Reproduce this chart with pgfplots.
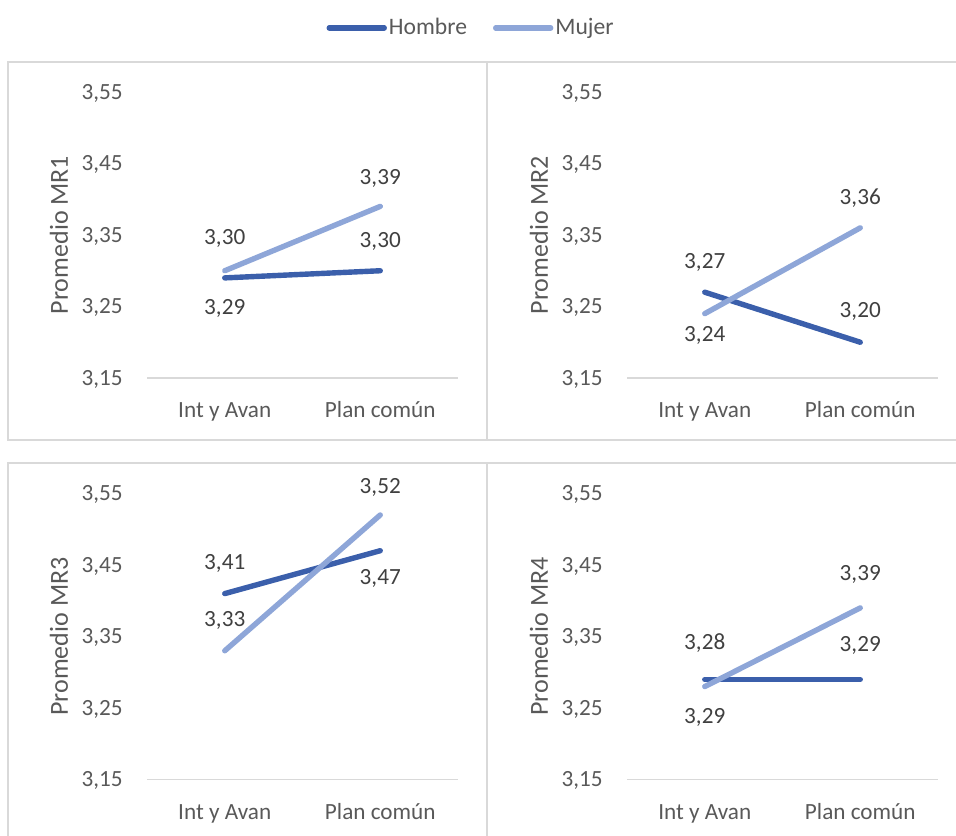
\documentclass[border=0pt]{standalone}
\usepackage{fontspec}
\setmainfont{Carlito}
\usepackage{pgfplots}
\pgfplotsset{compat=1.18}
\usepackage{pgfplotstable}

\definecolor{hombre}{RGB}{59,95,171}
\definecolor{mujer}{RGB}{142,166,216}
\definecolor{frame}{RGB}{217,217,217}
\definecolor{ticktext}{RGB}{89,89,89}
\definecolor{labeltext}{RGB}{64,64,64}

% x: category index, y: mean, dy: label offset (pt, positive = above)
\pgfplotstableread{
x y dy
0 3.29 -14.5
1 3.30 15.5
}\hmOne
\pgfplotstableread{
x y dy
0 3.30 17
1 3.39 14.5
}\mjOne
\pgfplotstableread{
x y dy
0 3.27 15.5
1 3.20 16
}\hmTwo
\pgfplotstableread{
x y dy
0 3.24 -10.5
1 3.36 15.5
}\mjTwo
\pgfplotstableread{
x y dy
0 3.41 15.5
1 3.47 -13
}\hmThree
\pgfplotstableread{
x y dy
0 3.33 16
1 3.52 14.5
}\mjThree
\pgfplotstableread{
x y dy
0 3.29 -18.5
1 3.29 17.5
}\hmFour
\pgfplotstableread{
x y dy
0 3.28 22
1 3.39 17.5
}\mjFour

\pgfplotsset{
  panel/.style={
    scale only axis,
    width=155.5pt, height=143pt,
    anchor=south west,
    xmin=-0.5, xmax=1.5,
    ymin=3.15, ymax=3.55,
    ytick={3.15,3.25,3.35,3.45,3.55},
    xtick={0,1},
    xticklabels={Int y Avan, Plan común},
    axis x line=bottom, axis y line=left,
    x axis line style={-, draw=frame, line width=0.75pt},
    y axis line style={-, draw=none},
    major tick length=0pt,
    clip=false,
    font=\fontsize{11.6}{14}\selectfont,
    /pgf/number format/.cd, fixed, fixed zerofill, precision=2, use comma,
    assume math mode=true,
    /pgfplots/.cd,
    yticklabel style={anchor=base east, inner sep=0pt, xshift=-12pt, yshift=-3.65pt, text=ticktext},
    xticklabel style={anchor=base, inner sep=0pt, yshift=-19.75pt, text=ticktext},
    ylabel style={at={(axis description cs:-0.283,0.5)}, anchor=center, rotate=0,
      font=\fontsize{13}{15}\selectfont, text=ticktext},
  },
  series/.style={
    line width=2.7pt, line cap=round, line join=round, draw=#1, mark=none,
    nodes near coords, point meta=explicit,
    visualization depends on={\thisrow{dy} \as \dy},
    every node near coord/.append style={anchor=base, inner sep=0pt,
      yshift={\dy pt-3.65pt}, text=labeltext,
      font=\fontsize{11.6}{14}\selectfont},
  },
}

\begin{document}
\begin{tikzpicture}
\path[use as bounding box] (0,0) rectangle (478pt,417.5pt);

% panel frames
\draw[frame, line width=0.75pt] (4pt,197.5pt) rectangle (243.5pt,386.5pt);
\draw[frame, line width=0.75pt] (243.5pt,197.5pt) rectangle (484pt,386.5pt);
\draw[frame, line width=0.75pt] (4pt,-5pt) rectangle (243.5pt,186pt);
\draw[frame, line width=0.75pt] (243.5pt,-5pt) rectangle (484pt,186pt);

% MR1
\begin{axis}[panel, at={(73.5pt,228.5pt)}, ylabel={Promedio MR1},
  legend columns=2,
  legend style={at={(axis description cs:1.042,1.224)}, anchor=center, draw=none,
    fill=none, font=\fontsize{11.8}{14}\selectfont, text=ticktext,
    inner sep=0pt,
    /tikz/every even column/.append style={column sep=12pt},
    nodes={inner sep=1pt}},
  legend image code/.code={\draw[#1, line cap=round] (0pt,0pt) -- (27.5pt,0pt);},
]
\addplot[series=hombre] table[x=x, y=y, meta=y] {\hmOne};
\addlegendentry{Hombre}
\addplot[series=mujer] table[x=x, y=y, meta=y] {\mjOne};
\addlegendentry{Mujer}
\end{axis}

% MR2
\begin{axis}[panel, at={(313.5pt,228.5pt)}, ylabel={Promedio MR2}]
\addplot[series=hombre] table[x=x, y=y, meta=y] {\hmTwo};
\addplot[series=mujer] table[x=x, y=y, meta=y] {\mjTwo};
\end{axis}

% MR3
\begin{axis}[panel, at={(73.5pt,27.75pt)}, ylabel={Promedio MR3}]
\addplot[series=hombre] table[x=x, y=y, meta=y] {\hmThree};
\addplot[series=mujer] table[x=x, y=y, meta=y] {\mjThree};
\end{axis}

% MR4
\begin{axis}[panel, at={(313.5pt,27.75pt)}, ylabel={Promedio MR4}]
\addplot[series=hombre] table[x=x, y=y, meta=y] {\hmFour};
\addplot[series=mujer] table[x=x, y=y, meta=y] {\mjFour};
\end{axis}
\end{tikzpicture}
\end{document}
